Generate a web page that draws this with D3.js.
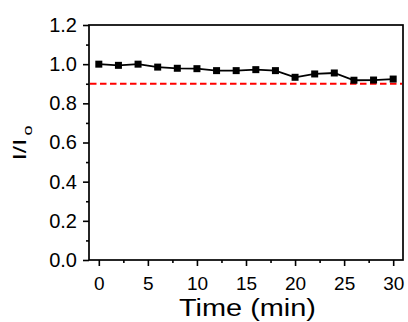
<!DOCTYPE html>
<html>
<head>
<meta charset="utf-8">
<script src="https://cdn.jsdelivr.net/npm/d3@7"></script>
<style>
  body { margin: 0; background: #fff; }
  svg { display: block; font-family: "Liberation Sans", Arial, sans-serif; }
</style>
</head>
<body>
<svg id="chart" width="408" height="322"></svg>
<script>
// data
const times = [0, 2, 4, 6, 8, 10, 12, 14, 16, 18, 20, 22, 24, 26, 28, 30];
const ratio = [1.0, 0.994, 1.0, 0.985, 0.979, 0.977, 0.967, 0.967, 0.972, 0.967, 0.933, 0.95, 0.955, 0.918, 0.919, 0.924];
const threshold = [0.9];
const xTicks = [0, 5, 10, 15, 20, 25, 30];
const xMinor = [2.5, 7.5, 12.5, 17.5, 22.5, 27.5];
const yTicks = [0, 0.2, 0.4, 0.6, 0.8, 1.0, 1.2];
const yMinor = [0.1, 0.3, 0.5, 0.7, 0.9, 1.1];

const margin = { top: 25, right: 5, bottom: 62, left: 89 };
const width = 408, height = 322;

const svg = d3.select("#chart");

//scales
const x = d3.scaleLinear().domain([-1, 31]).range([margin.left, width - margin.right]);
const y = d3.scaleLinear().domain([0, 1.2]).range([height - margin.bottom, margin.top]);

// minor ticks
svg.append("g")
    .attr("transform", `translate(0, ${y(0)})`)
    .call(d3.axisBottom(x).tickValues(xMinor).tickSize(3).tickFormat(""))
    .call(g => g.select(".domain").remove());
svg.append("g")
    .attr("transform", `translate(${x(-1)}, 0)`)
    .call(d3.axisLeft(y).tickValues(yMinor).tickSize(3).tickFormat(""))
    .call(g => g.select(".domain").remove());

// major axes
svg.append("g")
    .attr("class", "x-axis")
    .attr("transform", `translate(0, ${y(0)})`)
    .call(d3.axisBottom(x).tickValues(xTicks).tickSize(6).tickPadding(10.5).tickSizeOuter(0).tickFormat(d3.format("d")))
    .call(g => g.select(".domain").remove());

svg.append("g")
    .attr("class", "y-axis")
    .attr("transform", `translate(${x(-1)}, 0)`)
    .call(d3.axisLeft(y).tickValues(yTicks).tickSize(6).tickPadding(6).tickSizeOuter(0).tickFormat(d3.format(".1f")))
    .call(g => g.select(".domain").remove());

svg.selectAll(".tick line").attr("stroke", "#000").attr("stroke-width", 1.6);
svg.selectAll(".tick text")
    .attr("fill", "#000")
    .style("font-size", "20px")
    .style("font-family", "'Liberation Sans', Arial, sans-serif");
svg.selectAll(".x-axis .tick text").style("font-size", "19px");

// frame
svg.append("rect")
    .attr("x", x(-1))
    .attr("y", y(1.2))
    .attr("width", x(31) - x(-1))
    .attr("height", y(0) - y(1.2))
    .attr("fill", "none")
    .attr("stroke", "#000")
    .attr("stroke-width", 1.7);

// red dashed reference line
svg.selectAll(".ref")
    .data(threshold)
    .enter()
    .append("line")
    .attr("class", "ref")
    .attr("x1", x(-1) + 1)
    .attr("x2", x(31) - 1)
    .attr("y1", d => y(d))
    .attr("y2", d => y(d))
    .attr("stroke", "#ff0000")
    .attr("stroke-width", 2)
    .attr("stroke-dasharray", "6.5,3.5");

// data line
const pts = times.map((t, i) => ({ x: t, y: ratio[i] }));
const line = d3.line().x(d => x(d.x)).y(d => y(d.y));

svg.append("path")
    .datum(pts)
    .attr("d", line)
    .attr("fill", "none")
    .attr("stroke", "#000")
    .attr("stroke-width", 1.8);

const s = 7;
svg.selectAll(".pt")
    .data(pts)
    .enter()
    .append("rect")
    .attr("class", "pt")
    .attr("x", d => x(d.x) - s / 2)
    .attr("y", d => y(d.y) - s / 2)
    .attr("width", s)
    .attr("height", s)
    .attr("fill", "#000");

// axis titles
svg.append("text")
    .attr("x", 179)
    .attr("y", 316)
    .attr("textLength", 137)
    .attr("lengthAdjust", "spacingAndGlyphs")
    .style("font-size", "23.5px")
    .text("Time (min)");

// I/Io, stretched along the text like the original
const yl = svg.append("text")
    .attr("transform", "translate(26, 160.5) rotate(-90) scale(1.5, 1)")
    .style("font-size", "17.5px");
yl.append("tspan").text("I/I");
yl.append("tspan").attr("dx", 2).attr("dy", 5.5).style("font-size", "12px").text("o");
</script>
</body>
</html>
